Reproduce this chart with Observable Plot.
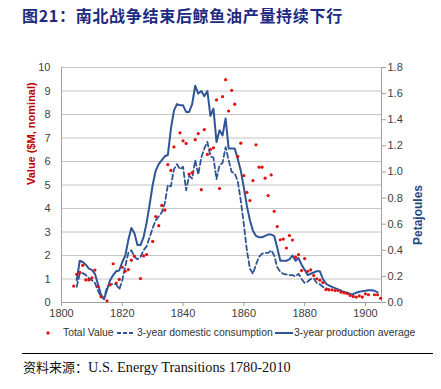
<!DOCTYPE html>
<html><head><meta charset="utf-8">
<script src="https://cdn.jsdelivr.net/npm/d3@7"></script>
<script src="https://cdn.jsdelivr.net/npm/@observablehq/plot@0.6"></script>
<style>
body{margin:0;width:441px;height:389px;position:relative;background:#fff;overflow:hidden;font-family:"Liberation Sans",Arial,sans-serif;}
#title{position:absolute;left:22px;top:3px;font-family:"Noto Sans CJK SC";font-weight:bold;font-size:16px;color:#1f2a82;letter-spacing:0.7px;white-space:nowrap;}
#chart{position:absolute;left:0;top:30px;}
.lg{position:absolute;top:326px;font-size:10.4px;color:#333;white-space:nowrap;line-height:14px;}
#rule{position:absolute;left:22px;top:353px;width:411px;border-top:1px solid #000;}
#source{position:absolute;left:23px;top:357px;font-family:"Liberation Serif","Noto Sans CJK SC",serif;font-size:14.3px;color:#111;white-space:nowrap;}
#source .cn{font-size:13px;}
</style></head>
<body>
<div id="title">图21：南北战争结束后鲸鱼油产量持续下行</div>
<div id="chart"></div>
<div id="legend"></div>
<div id="rule"></div>
<div id="source"><span class="cn">资料来源：</span>U.S. Energy Transitions 1780-2010</div>
<script>
// Total Value ($M, nominal) — left axis
const valueYears = [1804,1805,1806,1807,1808,1809,1810,1811,1812,1813,1815,1816,1817,1818,1819,1820,1821,1822,1823,1824,1826,1827,1828,1830,1831,1832,1833,1834,1835,1836,1837,1839,1840,1841,1842,1843,1844,1845,1846,1847,1848,1849,1850,1851,1852,1853,1854,1855,1856,1857,1858,1859,1860,1861,1862,1863,1864,1865,1866,1867,1868,1869,1870,1871,1872,1873,1874,1875,1876,1877,1878,1879,1880,1881,1882,1883,1884,1885,1886,1887,1888,1889,1890,1891,1892,1893,1894,1895,1896,1897,1898,1899,1900,1901,1903,1904,1905];
const totalValue = [0.70,1.20,1.28,1.58,0.96,0.96,1.05,1.38,0.68,0.25,0.07,0.75,1.65,0.83,0.98,1.50,1.33,1.40,1.80,1.97,1.02,1.98,2.04,2.60,3.66,3.27,4.13,3.93,5.87,5.62,6.62,7.22,6.88,6.77,5.46,5.53,6.93,7.19,4.80,7.36,6.30,6.52,6.58,8.62,4.85,8.76,9.48,8.15,9.03,8.44,6.22,6.78,5.40,4.69,4.34,5.19,6.71,5.76,5.76,5.29,4.55,5.43,3.88,3.23,2.67,2.70,2.32,2.85,2.66,1.93,2.04,1.36,1.87,1.33,1.39,1.15,1.01,0.95,0.85,0.55,0.54,0.54,0.51,0.51,0.44,0.41,0.38,0.30,0.26,0.23,0.28,0.23,0.37,0.33,0.33,0.33,0.18];

// 3-year production average (Petajoules) — right axis
const prodYears = d3.range(1805, 1905);
const prodPJ = [0.17,0.32,0.31,0.29,0.26,0.25,0.22,0.14,0.06,0.025,0.10,0.17,0.21,0.24,0.245,0.31,0.36,0.48,0.57,0.53,0.44,0.44,0.50,0.61,0.75,0.90,1.01,1.06,1.09,1.12,1.13,1.33,1.47,1.52,1.51,1.51,1.46,1.46,1.52,1.66,1.60,1.62,1.58,1.62,1.43,1.485,1.23,1.32,1.28,1.41,1.18,1.18,1.18,1.10,1.01,0.88,0.74,0.63,0.55,0.51,0.50,0.50,0.51,0.52,0.52,0.51,0.42,0.32,0.32,0.32,0.33,0.36,0.32,0.34,0.29,0.25,0.21,0.22,0.23,0.24,0.24,0.18,0.145,0.13,0.12,0.11,0.10,0.09,0.08,0.075,0.065,0.064,0.075,0.082,0.087,0.09,0.094,0.094,0.09,0.077];

// 3-year domestic consumption (Petajoules) — right axis
const consYears = d3.range(1805, 1889);
const consPJ = [0.12,0.22,0.225,0.21,0.185,0.17,0.15,0.09,0.045,0.03,0.12,0.14,0.14,0.14,0.10,0.17,0.28,0.38,0.40,0.35,0.33,0.35,0.40,0.43,0.50,0.57,0.63,0.66,0.69,0.76,0.90,0.89,1.02,1.06,1.02,1.04,0.86,0.97,0.95,1.09,0.98,1.11,1.18,1.23,1.12,1.11,0.945,1.05,1.07,1.19,1.09,1.00,0.99,0.93,0.78,0.60,0.40,0.26,0.22,0.29,0.35,0.375,0.38,0.38,0.40,0.36,0.27,0.235,0.22,0.215,0.21,0.21,0.20,0.22,0.18,0.15,0.16,0.18,0.185,0.15,0.14,0.12,0.11,0.10];

const leftTicks = d3.range(0, 11);
const rightTicks = [0,0.2,0.4,0.6,0.8,1.0,1.2,1.4,1.6,1.8];
const xTicks = [1800,1820,1840,1860,1880,1900];
const pjPerUnit = 1.8 / 10; // right axis max 1.8 PJ = left axis max 10

const valueData = valueYears.map((y, i) => ({year: y, v: totalValue[i]}));
const prodData = prodYears.map((y, i) => ({year: y, pj: prodPJ[i]}));
const consData = consYears.map((y, i) => ({year: y, pj: consPJ[i]}));

const blue = "#2f5597";
const xMax = 1905.3;
const chart = Plot.plot({
  width: 441, height: 295,
  marginLeft: 61, marginRight: 60, marginTop: 37, marginBottom: 23,
  x: {domain: [1800, xMax], axis: null},
  y: {domain: [0, 10], axis: null},
  style: {fontFamily: "Liberation Sans, Arial, sans-serif", fontSize: "11px", color: "#404040", background: "#fff"},
  marks: [
    Plot.gridY(leftTicks.slice(1), {stroke: "#c4c4c4", strokeOpacity: 1}),
    Plot.ruleY([0], {stroke: "#a0a0a0"}),
    Plot.ruleX([1800], {stroke: "#a0a0a0"}),
    Plot.ruleX([xMax], {stroke: "#a0a0a0"}),
    Plot.axisY(leftTicks, {anchor: "left", tickSize: 0, tickPadding: 11, label: null}),
    Plot.axisY(rightTicks.map(t => t / pjPerUnit), {anchor: "right", tickSize: 4, tickPadding: 2, tickFormat: d => (d * pjPerUnit).toFixed(1), label: null, stroke: "#a0a0a0"}),
    Plot.axisX(xTicks, {tickSize: 4, tickPadding: 3, tickFormat: d => String(d), label: null, stroke: "#a0a0a0"}),
    Plot.line(consData, {x: "year", y: d => d.pj / pjPerUnit, stroke: blue, strokeWidth: 1.8, strokeDasharray: "5,3"}),
    Plot.line(prodData, {x: "year", y: d => d.pj / pjPerUnit, stroke: blue, strokeWidth: 2}),
    Plot.dot(valueData, {x: "year", y: "v", r: 1.6, fill: "#e31010", stroke: "none"}),
    Plot.text(["Value ($M, nominal)"], {frameAnchor: "left", dx: -30, rotate: -90, fill: "#c00000", fontWeight: "bold", fontSize: 11}),
    Plot.text(["Petajoules"], {frameAnchor: "right", dx: 37, rotate: -90, fill: "#1f497d", fontWeight: "bold", fontSize: 12})
  ]
});
document.getElementById("chart").appendChild(chart);

// legend
const legend = document.getElementById("legend");
const items = [
  {left: 44, w: 8, type: "dot"}, {left: 63, text: "Total Value"},
  {left: 117, w: 18, type: "dash"}, {left: 137, text: "3-year domestic consumption"},
  {left: 275, w: 18, type: "solid"}, {left: 294, text: "3-year production average"}
];
for (const it of items) {
  const el = document.createElement("div");
  el.className = "lg";
  el.style.left = it.left + "px";
  if (it.text) el.textContent = it.text;
  else {
    const svg = it.type === "dot"
      ? `<svg width="${it.w}" height="14"><circle cx="4" cy="7" r="1.7" fill="#e31010"/></svg>`
      : `<svg width="${it.w}" height="14"><line x1="0" x2="${it.w}" y1="7" y2="7" stroke="${blue}" stroke-width="2" ${it.type === "dash" ? 'stroke-dasharray="4,2"' : ''}/></svg>`;
    el.innerHTML = svg;
  }
  legend.appendChild(el);
}
</script>
</body></html>
